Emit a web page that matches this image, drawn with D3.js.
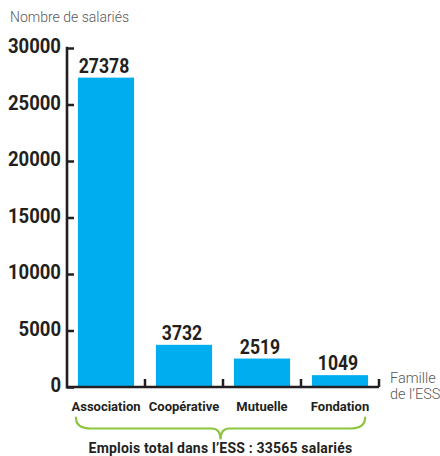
<!DOCTYPE html>
<html>
<head>
<meta charset="utf-8">
<script src="https://cdn.jsdelivr.net/npm/d3@7"></script>
<style>
  body { margin: 0; background: #fff; }
  svg { display: block; }
  .num { font-family: "Roboto", sans-serif; font-weight: bold; fill: #231f20; }
  .cat { font-family: "Roboto", sans-serif; font-weight: bold; font-size: 13px; fill: #231f20; }
  .light { font-family: "Roboto", sans-serif; font-weight: 300; font-size: 14px; fill: #58595b; }
</style>
</head>
<body>
<svg id="chart"></svg>
<script>
const categories = ['Association', 'Coopérative', 'Mutuelle', 'Fondation'];
const salaries = [27378, 3732, 2519, 1049];
const yTicks = [0, 5000, 10000, 15000, 20000, 25000, 30000];
const yTitle = 'Nombre de salariés';
const xTitle = ['Famille', 'de l\u2019ESS'];
const totalLabel = 'Emplois total dans l\u2019ESS : 33565 salariés';

const width = 440, height = 456;
const ink = '#231f20';
const svg = d3.select('#chart').attr('width', width).attr('height', height);

const x = d3.scaleBand()
  .domain(categories)
  .range([67, 379])
  .paddingInner(0.28)
  .paddingOuter(0.14);

const y = d3.scaleLinear()
  .domain([0, 30000])
  .range([387, 48]);

// bars
svg.selectAll('rect.bar')
  .data(categories)
  .enter()
  .append('rect')
  .attr('class', 'bar')
  .attr('x', d => x(d))
  .attr('width', x.bandwidth())
  .attr('y', (d, i) => y(salaries[i]))
  .attr('height', (d, i) => y(0) - y(salaries[i]))
  .attr('fill', '#00aeef');

// value labels (condensed look: squeeze horizontally)
svg.selectAll('text.val')
  .data(categories)
  .enter()
  .append('text')
  .attr('class', 'num')
  .attr('transform', (d, i) => `translate(${x(d) + x.bandwidth() / 2 - 2},${y(salaries[i]) - 5}) scale(0.86,1)`)
  .attr('text-anchor', 'middle')
  .style('font-size', '20.5px')
  .text((d, i) => salaries[i]);

// y axis
const yAxis = d3.axisRight(y).tickValues(yTicks).tickSize(7).tickFormat('');
const gy = svg.append('g')
  .attr('transform', 'translate(67,0)')
  .call(yAxis);
gy.select('.domain').remove();
gy.selectAll('.tick line').attr('stroke', ink).attr('stroke-width', 2.5);
svg.append('line')
  .attr('x1', 67).attr('x2', 67)
  .attr('y1', y(30000) - 1.2).attr('y2', y(0) + 1.5)
  .attr('stroke', ink).attr('stroke-width', 2.6);

svg.selectAll('text.ytick')
  .data(yTicks)
  .enter()
  .append('text')
  .attr('class', 'num')
  .attr('transform', d => `translate(61,${y(d) + 5}) scale(0.95,1)`)
  .attr('text-anchor', 'end')
  .style('font-size', '19.5px')
  .text(d => d);

// x axis
svg.append('line')
  .attr('x1', 67).attr('x2', 379)
  .attr('y1', y(0)).attr('y2', y(0))
  .attr('stroke', ink).attr('stroke-width', 2.6);
svg.selectAll('line.xtick')
  .data(categories)
  .enter()
  .append('line')
  .attr('x1', d => x(d) + x.bandwidth() + x.step() * x.paddingInner() / 2)
  .attr('x2', d => x(d) + x.bandwidth() + x.step() * x.paddingInner() / 2)
  .attr('y1', y(0))
  .attr('y2', y(0) - 8)
  .attr('stroke', ink).attr('stroke-width', 2.5);

svg.selectAll('text.cat')
  .data(categories)
  .enter()
  .append('text')
  .attr('class', 'cat')
  .attr('x', d => x(d) + x.bandwidth() / 2)
  .attr('y', 411)
  .attr('text-anchor', 'middle')
  .text(d => d);

// titles
svg.append('text')
  .attr('class', 'light')
  .attr('x', 10).attr('y', 22)
  .text(yTitle);

svg.append('text')
  .attr('class', 'light')
  .attr('x', 390).attr('y', 383)
  .style('font-size', '14.5px')
  .selectAll('tspan')
  .data(xTitle)
  .enter()
  .append('tspan')
  .attr('x', 390)
  .attr('dy', (d, i) => i ? 15.5 : 0)
  .text(d => d);

// brace under the categories
const bl = x(categories[0]) - 2;
const br = x(categories[categories.length - 1]) + x.bandwidth() - 3;
const bm = (bl + br) / 2;
const braceTop = 417.5, braceMid = 428.5, braceTip = 439.5;
const brace = d3.path();
brace.moveTo(bl, braceTop);
brace.quadraticCurveTo(bl, braceMid, bl + 15, braceMid);
brace.lineTo(bm - 9, braceMid);
brace.quadraticCurveTo(bm, braceMid, bm, braceTip);
brace.quadraticCurveTo(bm, braceMid, bm + 9, braceMid);
brace.lineTo(br - 15, braceMid);
brace.quadraticCurveTo(br, braceMid, br, braceTop);
svg.append('path')
  .attr('d', brace.toString())
  .attr('fill', 'none')
  .attr('stroke', '#8cc63f')
  .attr('stroke-width', 2.2)
  .attr('stroke-linecap', 'round');

svg.append('text')
  .attr('class', 'cat')
  .attr('x', bm)
  .attr('y', 453)
  .attr('text-anchor', 'middle')
  .style('font-size', '14px')
  .style('letter-spacing', '0.2px')
  .text(totalLabel);
</script>
</body>
</html>
